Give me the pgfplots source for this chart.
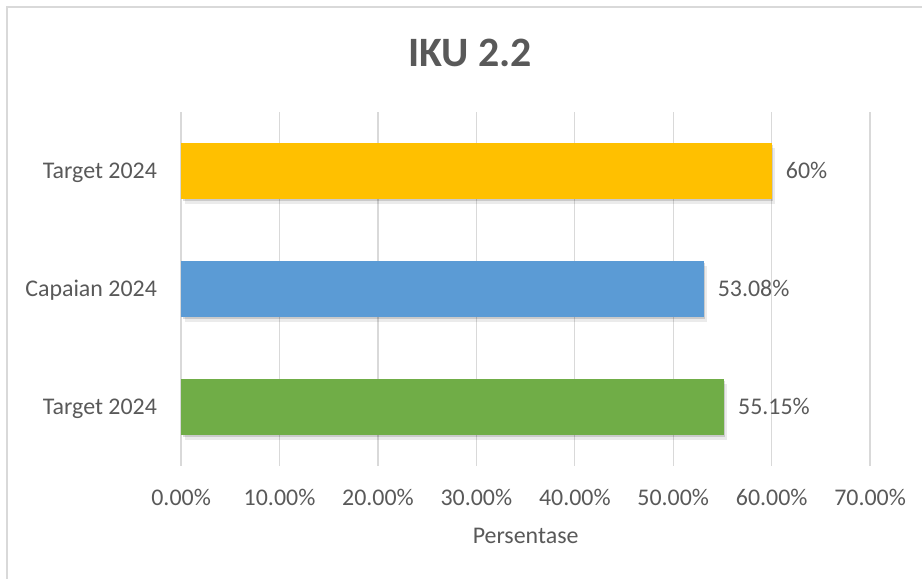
\documentclass[border=0pt]{standalone}
\usepackage{pgfplots}
\pgfplotsset{compat=1.18}
\usepackage{fontspec}
\setmainfont{Carlito}
\definecolor{txt}{HTML}{595959}
\definecolor{gridc}{HTML}{D9D9D9}
\definecolor{cOrange}{HTML}{FFC000}
\definecolor{cBlue}{HTML}{5B9BD5}
\definecolor{cGreen}{HTML}{70AD47}
\tikzset{barshadow/.style={
  preaction={fill=black, fill opacity=0.08, transform canvas={xshift=3.5bp,yshift=-5bp}},
  preaction={fill=black, fill opacity=0.14, transform canvas={xshift=1.5bp,yshift=-2.5bp}}}}
\begin{document}
\begin{tikzpicture}[x=1bp,y=1bp]
\useasboundingbox (0,0) rectangle (922,579);
\draw[color=gridc, line width=1.3bp] (7,0) -- (7,572) -- (923,572);
\node[anchor=base, text=txt, font=\fontsize{42}{50}\selectfont\bfseries, inner sep=0] at (470,512) {IKU 2.2};
\begin{axis}[
  at={(184,96)}, anchor=south west,
  scale only axis, width=689bp, height=354bp,
  xbar, bar width=56bp, bar shift=0pt,
  xmin=0, xmax=70, ymin=-0.5, ymax=2.5,
  xtick={0,10,...,70}, ytick={0,1,2},
  yticklabels={Target 2024, Capaian 2024, Target 2024},
  axis line style={draw=none}, major tick length=0pt,
  xmajorgrids, grid style={color=gridc, line width=1.3bp},
  /pgf/number format/assume math mode=true,
  xticklabel={\pgfmathprintnumber[fixed,fixed zerofill,precision=2]{\tick}\%},
  xticklabel style={anchor=base, inner sep=0, yshift=-40bp, text=txt, font=\fontsize{24}{28}\selectfont},
  yticklabel style={anchor=base east, inner sep=0, xshift=-24bp, yshift=-8bp, text=txt, font=\fontsize{24}{28}\selectfont},
  xlabel={Persentase},
  xlabel style={at={(axis description cs:0.5,0)}, anchor=base, inner sep=0, yshift=-78bp, text=txt, font=\fontsize{24}{28}\selectfont},
  point meta=explicit symbolic,
  nodes near coords,
  nodes near coords style={anchor=west, inner sep=0, xshift=14bp, text=txt, font=\fontsize{24}{28}\selectfont},
]
\addplot[fill=cGreen, draw=none, barshadow] coordinates {(55.15,0) [55.15\%]};
\addplot[fill=cBlue, draw=none, barshadow] coordinates {(53.08,1) [53.08\%]};
\addplot[fill=cOrange, draw=none, barshadow] coordinates {(60,2) [60\%]};
\end{axis}
\end{tikzpicture}
\end{document}
